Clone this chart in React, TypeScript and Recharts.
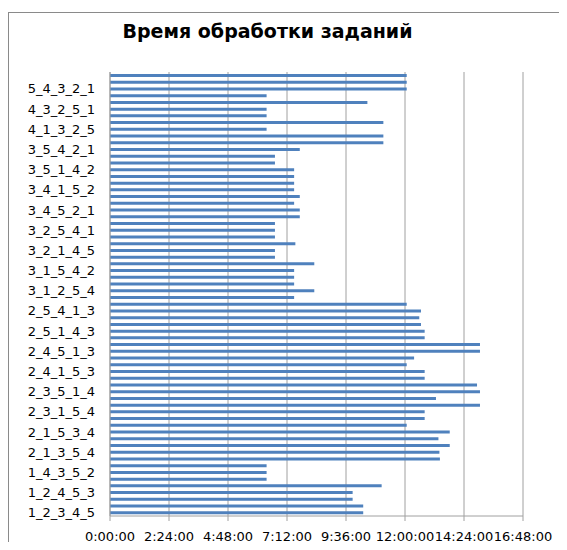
import React from 'react';
import { BarChart, Bar, XAxis, YAxis, CartesianGrid } from 'recharts';

// Job processing orders, listed from the bottom of the chart upwards
const jobOrders: string[] = [
  '1_2_3_4_5', '1_2_3_5_4', '1_2_4_3_5', '1_2_4_5_3', '1_3_2_4_5', '1_3_4_5_2',
  '1_4_3_5_2', '1_5_3_4_2', '2_1_3_4_5', '2_1_3_5_4', '2_1_4_3_5', '2_1_5_4_3',
  '2_1_5_3_4', '2_3_1_4_5', '2_3_4_1_5', '2_3_1_5_4', '2_3_4_5_1', '2_3_5_4_1',
  '2_3_5_1_4', '2_4_1_3_5', '2_4_3_1_5', '2_4_1_5_3', '2_4_3_5_1', '2_4_5_3_1',
  '2_4_5_1_3', '2_5_1_3_4', '2_5_3_1_4', '2_5_1_4_3', '2_5_3_4_1', '2_5_4_3_1',
  '2_5_4_1_3', '3_1_2_4_5', '3_1_4_2_5', '3_1_2_5_4', '3_1_4_5_2', '3_1_5_2_4',
  '3_1_5_4_2', '3_2_1_5_4', '3_2_4_1_5', '3_2_1_4_5', '3_2_4_5_1', '3_2_5_1_4',
  '3_2_5_4_1', '3_4_1_2_5', '3_4_2_5_1', '3_4_5_2_1', '3_4_2_1_5', '3_4_5_1_2',
  '3_4_1_5_2', '3_5_1_2_4', '3_5_2_4_1', '3_5_1_4_2', '3_5_2_1_4', '3_5_4_1_2',
  '3_5_4_2_1', '4_1_2_3_5', '4_1_2_5_3', '4_1_3_2_5', '4_2_1_3_5', '4_3_1_2_5',
  '4_3_2_5_1', '5_1_2_3_4', '5_2_3_4_1', '5_4_3_2_1', '5_4_3_1_2', '5_4_2_3_1',
];

// Total processing time for each order, in hours
const processingHours: number[] = [
  10.30, 10.30, 9.87, 9.87, 11.05, 6.37,
  6.37, 6.37, 13.42, 13.40, 13.82, 13.36,
  13.82, 12.07, 12.80, 12.80, 15.05, 13.26,
  15.05, 14.93, 12.80, 12.80, 12.07, 12.37,
  15.05, 15.05, 12.80, 12.80, 12.65, 12.58,
  12.65, 12.07, 7.49, 8.31, 7.49, 7.49,
  7.49, 8.31, 6.71, 6.71, 7.54, 6.71,
  6.71, 6.71, 7.72, 7.72, 7.49, 7.72,
  7.49, 7.49, 7.49, 7.49, 6.71, 6.71,
  7.72, 11.12, 11.12, 6.37, 11.12, 6.37,
  6.37, 10.47, 6.37, 12.07, 12.07, 12.07,
];

// Time axis ticks, in hours (every 2:24:00)
const timeTicks: number[] = [0, 2.4, 4.8, 7.2, 9.6, 12, 14.4, 16.8];

const chartTitle = 'Время обработки заданий';

const data = jobOrders.map((order, i) => ({ order, hours: processingHours[i] }));

// Category boundaries, used for the small tick marks between bars
const edgeTicks = Array.from({ length: jobOrders.length + 1 }, (_, i) => i);

const pad = (n: number) => String(n).padStart(2, '0');
const formatTime = (h: number) => {
  const s = Math.round(h * 3600);
  const hh = Math.floor(s / 3600);
  const mm = Math.floor((s % 3600) / 60);
  const ss = s % 60;
  return `${hh}:${pad(mm)}:${pad(ss)}`;
};

const axisGray = '#a0a0a0';
const tickFont = { fontSize: 13, fill: '#000', fontFamily: '"DejaVu Sans", sans-serif' };

// short rules along the very top edge of the sheet
const topRules = [
  { left: 12, width: 15 },
  { left: 40, width: 15 },
  { left: 63, width: 12 },
  { left: 85, width: 12 },
];

export default function App() {
  return (
    <div
      style={{
        position: 'relative', width: 567, height: 550, margin: '-8px 0 -8px -8px',
        overflow: 'hidden', background: '#fff',
      }}
    >
      {topRules.map((r, i) => (
        <div
          key={i}
          style={{ position: 'absolute', top: 2, left: r.left, width: r.width, height: 1.5, background: '#222' }}
        />
      ))}
      <div
        style={{
          position: 'absolute', left: 8, top: 12, width: 557, height: 600,
          border: '1px solid #8a8a8a',
        }}
      />
      <div
        style={{
          position: 'absolute', left: 67.5, width: 400, top: 20.5, textAlign: 'center',
          fontFamily: '"DejaVu Sans", sans-serif', fontWeight: 'bold', fontSize: 19,
          lineHeight: '20px', color: '#000', whiteSpace: 'nowrap',
        }}
      >
        {chartTitle}
      </div>
      <BarChart
        width={567}
        height={550}
        layout="vertical"
        data={data}
        margin={{ top: 72, right: 44, bottom: 0, left: 8 }}
        barSize={3}
        style={{ position: 'absolute', left: 0, top: 0 }}
      >
        <CartesianGrid horizontal={false} stroke={axisGray} />
        <YAxis
          yAxisId="edges"
          type="number"
          domain={[0, jobOrders.length]}
          ticks={edgeTicks}
          tick={false}
          tickSize={5}
          tickLine={{ stroke: axisGray }}
          axisLine={false}
          width={0}
          allowDataOverflow
        />
        <YAxis
          type="category"
          dataKey="order"
          reversed
          width={102}
          interval={2}
          tickLine={false}
          tickSize={5}
          tickMargin={10}
          axisLine={{ stroke: axisGray }}
          tick={tickFont}
        />
        <XAxis
          type="number"
          domain={[0, 16.8]}
          ticks={timeTicks}
          interval={0}
          tickFormatter={formatTime}
          tickSize={5}
          tickMargin={11}
          height={34}
          axisLine={{ stroke: axisGray }}
          tickLine={{ stroke: axisGray }}
          tick={tickFont}
        />
        <Bar dataKey="hours" fill="#4F81BD" isAnimationActive={false} />
      </BarChart>
    </div>
  );
}
